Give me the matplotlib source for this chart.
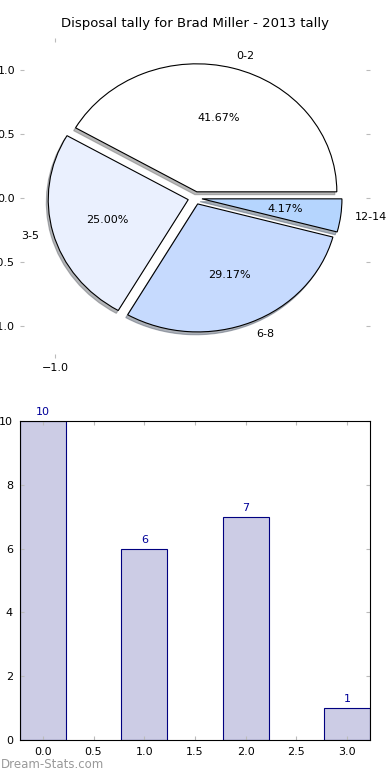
import matplotlib
matplotlib.use('Agg')
from matplotlib import pyplot as plt

# Disposal tally data
labels = ['0-2', '3-5', '6-8', '12-14']
counts = [10, 6, 7, 1]
pie_colors = ['#ffffff', '#eaf0fe', '#c6dafe', '#b5d5fe']
explode = [0.05, 0.05, 0.05, 0.05]

bar_x = [0, 1, 2, 3]

plt.rcParams['font.family'] = ['DejaVu Sans']

fig = plt.figure(figsize=(3.9, 7.8), dpi=100)

# Pie chart
ax1 = fig.add_axes([20 / 390, 1 - 358 / 780, 350 / 390, 320 / 780])
ax1.pie(counts, labels=labels, colors=pie_colors, explode=explode,
        autopct='%1.2f%%', startangle=0,
        shadow={'ox': -0.01, 'oy': -0.016, 'shade': 0.55},
        wedgeprops={'edgecolor': 'black', 'linewidth': 0.8},
        textprops={'fontsize': 8})
ax1.set_aspect('auto')
ax1.set_xlim(-1.25, 1.25)
ax1.set_ylim(-1.25, 1.25)
ax1.set_frame_on(False)
ax1.set_xticks([-1.0])
ax1.set_xticklabels(['\u22121.0'])
ax1.set_yticks([1.0, 0.5, 0.0, -0.5, -1.0])
ax1.set_yticklabels(['1.0', '0.5', '0.0', '\u22120.5', '\u22121.0'])
ax1.tick_params(direction='in', length=3, color='#bbbbbb', labelsize=8,
                top=True, right=True, bottom=True, left=True)
ax1.set_title('Disposal tally for Brad Miller - 2013 tally', fontsize=9.5, pad=8)

# Bar chart
ax2 = fig.add_axes([20 / 390, 40 / 780, 350 / 390, 319 / 780])
bars = ax2.bar(bar_x, counts, width=0.45, color='#ccccE5', edgecolor='#000080',
               linewidth=0.8)
for x, c in zip(bar_x, counts):
    ax2.text(x, c + 0.12, str(c), ha='center', va='bottom', color='#000099', fontsize=8)
ax2.set_xlim(-0.225, 3.225)
ax2.set_ylim(0, 10)
ax2.set_xticks([0, 0.5, 1, 1.5, 2, 2.5, 3])
ax2.set_xticklabels(['0.0', '0.5', '1.0', '1.5', '2.0', '2.5', '3.0'])
ax2.set_yticks([0, 2, 4, 6, 8, 10])
ax2.tick_params(direction='in', length=3, color='#bbbbbb', labelsize=8,
                top=True, right=True, pad=5)

fig.text(0.002, 0.012, 'Dream-Stats.com', color='#999999', fontsize=8.5,
         ha='left', va='bottom')

fig.savefig('out.png', dpi=100)
